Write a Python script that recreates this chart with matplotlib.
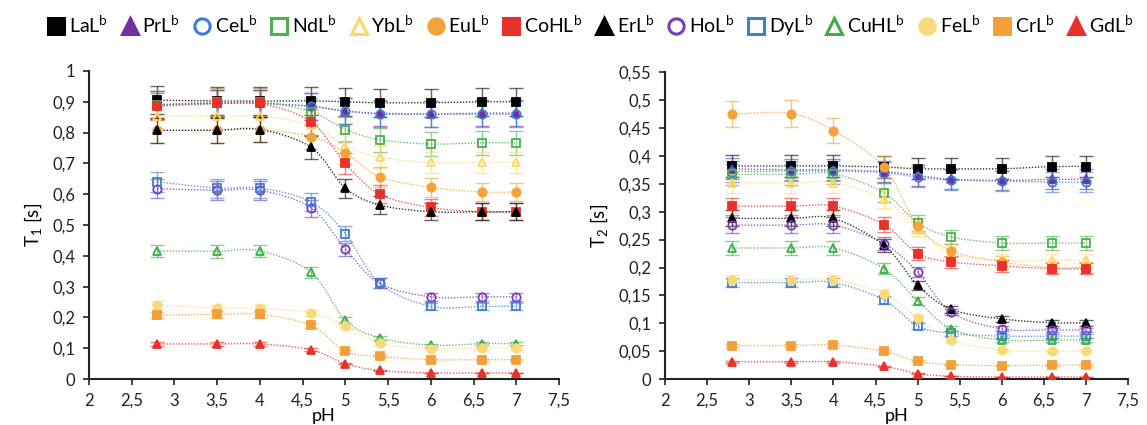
import matplotlib
matplotlib.use("Agg")
import matplotlib.pyplot as plt
from matplotlib.path import Path
from matplotlib.patches import PathPatch
from matplotlib.lines import Line2D
from matplotlib.ticker import FuncFormatter, MultipleLocator

plt.rcParams["font.family"] = ["Lato", "DejaVu Sans"]
plt.rcParams["mathtext.fontset"] = "custom"
plt.rcParams["mathtext.rm"] = "Lato"
plt.rcParams["mathtext.it"] = "Lato:italic"

ph = [2.8, 3.5, 4.0, 4.6, 5.0, 5.4, 6.0, 6.6, 7.0]

names = ["LaL", "PrL", "CeL", "NdL", "YbL", "EuL", "CoHL", "ErL",
         "HoL", "DyL", "CuHL", "FeL", "CrL", "GdL"]

# relative error (about 5 %)
rel_err = 0.05

t1_LaL = [0.905, 0.903, 0.902, 0.903, 0.900, 0.897, 0.897, 0.900, 0.900]
t1_PrL = [0.890, 0.895, 0.895, 0.885, 0.870, 0.863, 0.860, 0.863, 0.863]
t1_CeL = [0.890, 0.895, 0.895, 0.885, 0.870, 0.860, 0.860, 0.860, 0.860]
t1_NdL = [0.890, 0.900, 0.900, 0.868, 0.810, 0.777, 0.763, 0.767, 0.767]
t1_YbL = [0.853, 0.853, 0.853, 0.825, 0.757, 0.720, 0.703, 0.703, 0.703]
t1_EuL = [0.808, 0.808, 0.810, 0.787, 0.735, 0.657, 0.622, 0.607, 0.607]
t1_CoHL = [0.885, 0.895, 0.895, 0.835, 0.700, 0.600, 0.557, 0.543, 0.543]
t1_ErL = [0.807, 0.808, 0.810, 0.752, 0.620, 0.565, 0.543, 0.543, 0.543]
t1_HoL = [0.618, 0.613, 0.613, 0.555, 0.422, 0.311, 0.267, 0.267, 0.267]
t1_DyL = [0.640, 0.620, 0.620, 0.575, 0.472, 0.311, 0.236, 0.236, 0.236]
t1_CuHL = [0.416, 0.415, 0.416, 0.346, 0.191, 0.134, 0.110, 0.115, 0.115]
t1_FeL = [0.241, 0.230, 0.230, 0.214, 0.172, 0.117, 0.098, 0.101, 0.101]
t1_CrL = [0.208, 0.210, 0.210, 0.174, 0.090, 0.074, 0.063, 0.063, 0.063]
t1_GdL = [0.114, 0.114, 0.114, 0.095, 0.050, 0.028, 0.020, 0.020, 0.020]

t2_LaL = [0.382, 0.382, 0.382, 0.380, 0.377, 0.377, 0.377, 0.381, 0.381]
t2_PrL = [0.377, 0.375, 0.375, 0.372, 0.365, 0.358, 0.356, 0.358, 0.358]
t2_CeL = [0.372, 0.373, 0.373, 0.370, 0.362, 0.357, 0.355, 0.353, 0.353]
t2_NdL = [0.367, 0.367, 0.368, 0.334, 0.280, 0.255, 0.244, 0.244, 0.244]
t2_YbL = [0.352, 0.352, 0.352, 0.322, 0.270, 0.225, 0.213, 0.213, 0.213]
t2_EuL = [0.475, 0.476, 0.445, 0.380, 0.275, 0.230, 0.210, 0.200, 0.200]
t2_CoHL = [0.310, 0.310, 0.310, 0.277, 0.225, 0.210, 0.203, 0.198, 0.198]
t2_ErL = [0.288, 0.288, 0.288, 0.240, 0.168, 0.125, 0.108, 0.101, 0.101]
t2_HoL = [0.276, 0.276, 0.276, 0.243, 0.192, 0.120, 0.090, 0.088, 0.088]
t2_DyL = [0.173, 0.173, 0.173, 0.142, 0.095, 0.082, 0.077, 0.077, 0.077]
t2_CuHL = [0.235, 0.235, 0.235, 0.198, 0.140, 0.090, 0.070, 0.070, 0.070]
t2_FeL = [0.178, 0.178, 0.178, 0.153, 0.110, 0.070, 0.052, 0.050, 0.050]
t2_CrL = [0.060, 0.060, 0.061, 0.050, 0.032, 0.026, 0.024, 0.025, 0.025]
t2_GdL = [0.031, 0.031, 0.031, 0.023, 0.010, 0.005, 0.004, 0.004, 0.004]

t1 = [t1_LaL, t1_PrL, t1_CeL, t1_NdL, t1_YbL, t1_EuL, t1_CoHL, t1_ErL,
      t1_HoL, t1_DyL, t1_CuHL, t1_FeL, t1_CrL, t1_GdL]
t2 = [t2_LaL, t2_PrL, t2_CeL, t2_NdL, t2_YbL, t2_EuL, t2_CoHL, t2_ErL,
      t2_HoL, t2_DyL, t2_CuHL, t2_FeL, t2_CrL, t2_GdL]

# colour, marker, filled
styles = [
    ("#000000", "s", True),
    ("#7030a0", "^", True),
    ("#3b7dd8", "o", False),
    ("#4caf50", "s", False),
    ("#ffd966", "^", False),
    ("#f4a23a", "o", True),
    ("#e8312a", "s", True),
    ("#000000", "^", True),
    ("#7a3db8", "o", False),
    ("#3f7fcf", "s", False),
    ("#3fae49", "^", False),
    ("#fad978", "o", True),
    ("#f4a03a", "s", True),
    ("#e8312a", "^", True),
]


def smooth_path(x, y):
    # cubic bezier through the points, like a spreadsheet "smoothed line"
    n = len(x)
    verts = [(x[0], y[0])]
    codes = [Path.MOVETO]
    for i in range(n - 1):
        i0 = max(i - 1, 0)
        i3 = min(i + 2, n - 1)
        c1 = (x[i] + (x[i + 1] - x[i0]) / 6, y[i] + (y[i + 1] - y[i0]) / 6)
        c2 = (x[i + 1] - (x[i3] - x[i]) / 6, y[i + 1] - (y[i3] - y[i]) / 6)
        verts += [c1, c2, (x[i + 1], y[i + 1])]
        codes += [Path.CURVE4] * 3
    return Path(verts, codes)


def comma(v, pos):
    s = ("%.2f" % v).rstrip("0").rstrip(".")
    return s.replace(".", ",")


fig = plt.figure(figsize=(11.47, 4.25), dpi=100)
ax1 = fig.add_axes([0.0776, 0.108, 0.4098, 0.725])
ax2 = fig.add_axes([0.5798, 0.108, 0.4037, 0.722])

for ax, data, ymax, ystep, lab in [(ax1, t1, 1.0, 0.1, r"T$_1$ [s]"),
                                   (ax2, t2, 0.55, 0.05, r"T$_2$ [s]")]:
    for vals, (col, mk, filled) in zip(data, styles):
        ax.add_patch(PathPatch(smooth_path(ph, vals), fill=False, edgecolor=col,
                               lw=1.0, linestyle=(0, (1, 1.2)), alpha=0.8, zorder=2))
        err = [v * rel_err for v in vals]
        ax.errorbar(ph, vals, yerr=err, fmt="none", ecolor=col, elinewidth=1.0,
                    capsize=5, capthick=1.0, alpha=0.6, zorder=3)
        ax.plot(ph, vals, linestyle="none", marker=mk, markersize=6,
                markerfacecolor=col if filled else "none", markeredgecolor=col,
                markeredgewidth=1.3, zorder=4)
    ax.set_xlim(2, 7.5)
    ax.set_ylim(0, ymax)
    ax.xaxis.set_major_locator(MultipleLocator(0.5))
    ax.yaxis.set_major_locator(MultipleLocator(ystep))
    ax.xaxis.set_major_formatter(FuncFormatter(comma))
    ax.yaxis.set_major_formatter(FuncFormatter(comma))
    for s in ["top", "right"]:
        ax.spines[s].set_visible(False)
    for s in ["left", "bottom"]:
        ax.spines[s].set_linewidth(1.5)
        ax.spines[s].set_color("#222222")
    ax.tick_params(direction="out", length=4, width=1.2, labelsize=12,
                   colors="#222222", pad=6)
    ax.set_xlabel("pH", fontsize=13, labelpad=-1)
    ax.set_ylabel(lab, fontsize=13.5, labelpad=6)

handles = []
for name, (col, mk, filled) in zip(names, styles):
    handles.append(Line2D([], [], linestyle="none", marker=mk, markersize=11,
                          markerfacecolor=col if filled else "none",
                          markeredgecolor=col, markeredgewidth=2.2,
                          label=name + r"$^{\mathrm{b}}$"))
fig.legend(handles=handles, loc="upper center", bbox_to_anchor=(0.515, 1.0),
           ncol=14, frameon=False, fontsize=14, handlelength=0.8,
           handletextpad=0.25, columnspacing=0.72, borderaxespad=0.3)

fig.savefig("out.png", dpi=100)
